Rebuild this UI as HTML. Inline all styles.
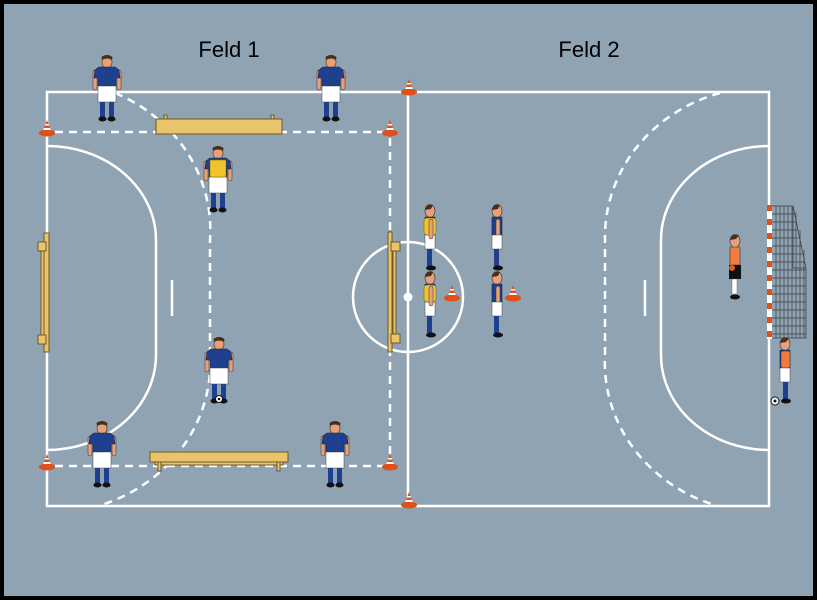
<!DOCTYPE html>
<html><head><meta charset="utf-8"><style>
html,body{margin:0;padding:0;background:#000;}
svg{display:block;}
</style></head><body>
<svg width="817" height="600" viewBox="0 0 817 600" xmlns="http://www.w3.org/2000/svg">
<defs>
  <g id="pf">
    <ellipse cx="0" cy="6" rx="5" ry="6.5" fill="#e8a07a" stroke="#333" stroke-width="0.6"/>
    <path d="M-5,4 Q0,-2 5,4 L5,2 Q0,-3 -5,2Z" fill="#4a2e1a"/>
    <path d="M-5.5,1 Q0,-3 5.5,1 L5,4 Q0,1 -5,4Z" fill="#4a2e1a"/>
    <rect x="-14" y="14" width="4" height="20" rx="2" fill="#e8a07a" stroke="#333" stroke-width="0.5"/>
    <rect x="10" y="14" width="4" height="20" rx="2" fill="#e8a07a" stroke="#333" stroke-width="0.5"/>
    <path d="M-12,14 L-8,11 L8,11 L12,14 L13,22 L9,22 L9,30 L-9,30 L-9,22 L-13,22Z" fill="#1f3f8f" stroke="#222" stroke-width="0.6"/>
    <rect x="-9" y="30" width="18" height="16" fill="#fff" stroke="#444" stroke-width="0.5"/>
    <rect x="-7" y="46" width="5" height="15" fill="#1f3f8f"/>
    <rect x="2" y="46" width="5" height="15" fill="#1f3f8f"/>
    <ellipse cx="-4.5" cy="63" rx="4" ry="2.5" fill="#111"/>
    <ellipse cx="4.5" cy="63" rx="4" ry="2.5" fill="#111"/>
  </g>
  <g id="pfy">
    <use href="#pf"/>
    <rect x="-8" y="13" width="16" height="17" fill="#f2c42c" stroke="#6a5a10" stroke-width="0.5"/>
  </g>
  <g id="ps">
    <ellipse cx="0" cy="6" rx="5" ry="6.5" fill="#e8a07a" stroke="#333" stroke-width="0.6"/>
    <path d="M-5,5 Q-4,-2 3,0 L1,4 Z" fill="#4a2e1a"/>
    <path d="M-5,12 L5,12 L5,30 L-5,30Z" fill="#1f3f8f" stroke="#222" stroke-width="0.6"/>
    <rect x="-1" y="14" width="4" height="20" rx="2" fill="#e8a07a" stroke="#333" stroke-width="0.5"/>
    <rect x="-5" y="30" width="10" height="14" fill="#fff" stroke="#444" stroke-width="0.5"/>
    <rect x="-3" y="44" width="5" height="17" fill="#1f3f8f"/>
    <ellipse cx="1" cy="63" rx="5" ry="2.5" fill="#111"/>
  </g>
  <g id="psy">
    <use href="#ps"/>
    <rect x="-6" y="13" width="12" height="17" rx="3" fill="#f2c42c" stroke="#6a5a10" stroke-width="0.5"/>
    <rect x="-1" y="14" width="4" height="20" rx="2" fill="#e8a07a" stroke="#333" stroke-width="0.5"/>
  </g>
  <g id="cone">
    <ellipse cx="0" cy="0" rx="8" ry="3.5" fill="#e0501a"/>
    <path d="M-4.5,-1 L0,-13 L4.5,-1Z" fill="#e0501a"/>
    <path d="M-3,-5 L3,-5 L3.8,-3 L-3.8,-3Z" fill="#fff"/>
    <path d="M-1.6,-9 L1.6,-9 L2.2,-7.5 L-2.2,-7.5Z" fill="#fff"/>
  </g>
</defs>
<rect x="0" y="0" width="817" height="600" fill="#000"/>
<rect x="4" y="4" width="809" height="592" fill="#8fa3b3"/>
<text x="229" y="57" font-family="Liberation Sans, sans-serif" font-size="22" text-anchor="middle" fill="#000">Feld 1</text>
<text x="589" y="57" font-family="Liberation Sans, sans-serif" font-size="22" text-anchor="middle" fill="#000">Feld 2</text>
<g fill="none" stroke="#fff" stroke-width="2.5">
  <rect x="47" y="92" width="722" height="414"/>
  <line x1="408" y1="92" x2="408" y2="506"/>
  <circle cx="408" cy="297" r="55"/>
  <path d="M47,146 A109,94 0 0 1 156,240 L156,355 A109,95 0 0 1 47,450"/>
  <path d="M769,146 A108,94 0 0 0 661,240 L661,355 A108,95 0 0 0 769,450"/>
  <line x1="172" y1="280" x2="172" y2="316"/>
  <line x1="645" y1="280" x2="645" y2="316"/>
</g>
<circle cx="408" cy="297" r="4.5" fill="#fff"/>
<g fill="none" stroke="#fff" stroke-width="2.5" stroke-dasharray="8,6">
  <path d="M115,93 A160,150 0 0 1 210,240 L210,355 A160,150 0 0 1 98,506"/>
  <path d="M720,93 A160,150 0 0 0 605,240 L605,355 A160,150 0 0 0 718,506"/>
  <line x1="55" y1="132" x2="390" y2="132"/>
  <line x1="55" y1="466" x2="390" y2="466"/>
  <line x1="390" y1="138" x2="390" y2="466"/>
</g>
<!-- benches -->
<g fill="#e9c46a" stroke="#6b5a2a" stroke-width="1">
  <rect x="164" y="115" width="3" height="5"/><rect x="271" y="115" width="3" height="5"/>
  <rect x="156" y="119" width="126" height="15"/>
  <rect x="150" y="452" width="138" height="10"/>
  <rect x="155" y="462" width="128" height="3"/>
  <rect x="158" y="462" width="3" height="9"/><rect x="277" y="462" width="3" height="9"/>
  <rect x="44" y="233" width="5" height="119"/>
  <rect x="41" y="249" width="3" height="88"/>
  <rect x="38" y="242" width="8" height="9"/><rect x="38" y="335" width="8" height="9"/>
  <rect x="388" y="232" width="4" height="120"/>
  <rect x="393" y="248" width="3" height="88"/>
  <rect x="391" y="242" width="9" height="9"/><rect x="391" y="334" width="9" height="9"/>
</g>
<!-- goal right -->
<g stroke="#333" stroke-width="0.7" fill="none" opacity="0.9">
  <path d="M772,206 L793,206 L806,268 L806,338 L772,338"/>
  <path d="M793,206 L793,268 L806,268"/>
  <path d="M776,206V338M780,206V338M784,206V338M788,206V338M792,206V338M796,212V338M800,230V338M804,250V338"/>
  <path d="M772,214H795M772,222H797M772,230H798M772,238H800M772,246H802M772,254H803M772,262H805M772,270H806M772,278H806M772,286H806M772,294H806M772,302H806M772,310H806M772,318H806M772,326H806M772,334H806"/>
</g>
<rect x="767" y="205" width="5" height="134" fill="#fff"/>
<g fill="#e0501a">
  <rect x="767" y="205" width="5" height="6"/><rect x="767" y="219" width="5" height="6"/><rect x="767" y="233" width="5" height="6"/>
  <rect x="767" y="247" width="5" height="6"/><rect x="767" y="261" width="5" height="6"/><rect x="767" y="275" width="5" height="6"/>
  <rect x="767" y="289" width="5" height="6"/><rect x="767" y="303" width="5" height="6"/><rect x="767" y="317" width="5" height="6"/>
  <rect x="767" y="331" width="5" height="6"/>
</g>
<!-- cones -->
<use href="#cone" x="47" y="133"/>
<use href="#cone" x="390" y="133"/>
<use href="#cone" x="409" y="92"/>
<use href="#cone" x="47" y="467"/>
<use href="#cone" x="390" y="467"/>
<use href="#cone" x="409" y="505"/>
<use href="#cone" x="452" y="298"/>
<use href="#cone" x="513" y="298"/>
<!-- players -->
<use href="#pf" x="107" y="56"/>
<use href="#pf" x="331" y="56"/>
<use href="#pfy" x="218" y="147"/>
<use href="#pf" x="219" y="338"/>
<use href="#pf" x="102" y="422"/>
<use href="#pf" x="335" y="422"/>
<use href="#psy" x="430" y="205"/>
<use href="#ps" x="497" y="205"/>
<use href="#psy" x="430" y="272"/>
<use href="#ps" x="497" y="272"/>
<!-- goalkeeper -->
<g transform="translate(735,235)">
  <ellipse cx="0" cy="6" rx="5" ry="6.5" fill="#e8a07a" stroke="#333" stroke-width="0.6"/>
  <path d="M-5,5 Q-4,-2 4,0 L1,4 Z" fill="#4a2e1a"/>
  <path d="M-5,12 L5,12 L5,30 L-5,30Z" fill="#f07c40" stroke="#333" stroke-width="0.6"/>
  <rect x="-6" y="30" width="12" height="14" fill="#111"/>
  <rect x="-3" y="44" width="5" height="15" fill="#fff" stroke="#555" stroke-width="0.4"/>
  <ellipse cx="0" cy="62" rx="5" ry="2.5" fill="#111"/>
  <circle cx="-3" cy="33" r="3" fill="#d06020"/>
</g>
<g transform="translate(785,338)">
  <ellipse cx="0" cy="6" rx="5" ry="6.5" fill="#e8a07a" stroke="#333" stroke-width="0.6"/>
  <path d="M-5,5 Q-4,-2 4,0 L1,4 Z" fill="#4a2e1a"/>
  <path d="M-5,12 L5,12 L5,30 L-5,30Z" fill="#1f3f8f" stroke="#222" stroke-width="0.6"/>
  <rect x="-4" y="13" width="9" height="17" rx="2" fill="#f07c40" stroke="#333" stroke-width="0.5"/>
  <rect x="-5" y="30" width="10" height="14" fill="#fff" stroke="#444" stroke-width="0.5"/>
  <rect x="-2" y="44" width="5" height="17" fill="#1f3f8f"/>
  <ellipse cx="1" cy="63" rx="5" ry="2.5" fill="#111"/>
</g>
<!-- balls -->
<circle cx="219" cy="399" r="3.5" fill="#fff" stroke="#111" stroke-width="1"/>
<circle cx="219" cy="399" r="1.3" fill="#111"/>
<circle cx="775" cy="401" r="4" fill="#fff" stroke="#111" stroke-width="1"/>
<circle cx="775" cy="401" r="1.5" fill="#111"/>
</svg>
</body></html>
